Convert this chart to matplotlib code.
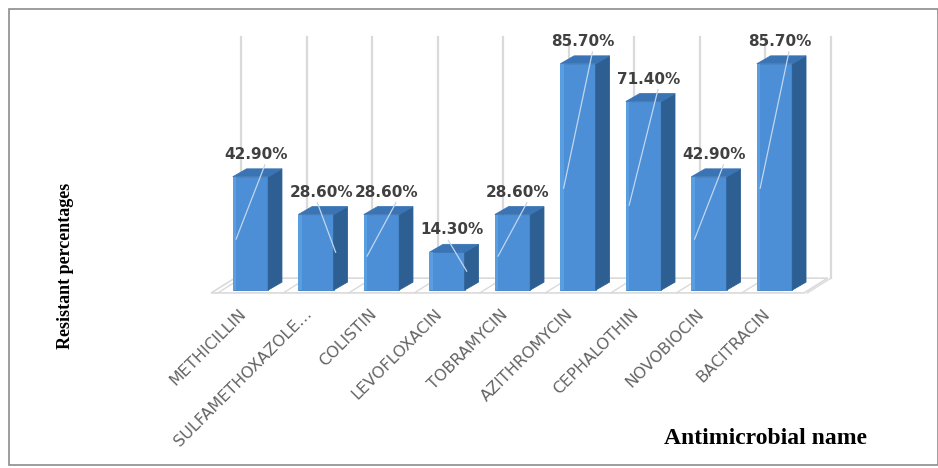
import matplotlib
matplotlib.use("Agg")
import matplotlib.pyplot as plt
import matplotlib.transforms as mtrans
from matplotlib.patches import Polygon, Rectangle

categories = ["METHICILLIN", "SULFAMETHOXAZOLE…", "COLISTIN", "LEVOFLOXACIN",
              "TOBRAMYCIN", "AZITHROMYCIN", "CEPHALOTHIN", "NOVOBIOCIN", "BACITRACIN"]
resistant_pct = [42.9, 28.6, 28.6, 14.3, 28.6, 85.7, 71.4, 42.9, 85.7]

# style: leader-line lean per bar (-1 = down-left, +1 = down-right)
leader_lean = [-1, 1, -1, 1, -1, -1, -1, -1, -1]

W, H = 938, 468
fig = plt.figure(figsize=(W / 100, H / 100), dpi=100)
ax = fig.add_axes([0.2042, 0.3577, 0.6914, 0.5867])
ax.set_xlim(-0.9, 9.0)
ax.set_ylim(-4, 100)
for s in ax.spines.values():
    s.set_visible(False)
ax.set_yticks([])
ax.patch.set_alpha(0)

n = len(categories)
hw = 0.27          # half bar width (category units)
dx, dy = 0.21, 3.0  # bar depth offsets
fbx, fby0, fby1 = 0.36, -1.1, 4.5  # floor depth
grid_c = "#dadada"

# floor slab
x0, x1 = -0.6, n - 0.55
ax.add_patch(Polygon([(x0, fby0), (x1, fby0), (x1 + fbx, fby1), (x0 + fbx, fby1)],
                     closed=True, fc="white", ec=grid_c, lw=1.2, zorder=1))
for b in range(n + 1):
    bb = b - 0.5
    ax.plot([bb, bb + fbx], [fby0, fby1], color=grid_c, lw=1.0, zorder=1.1)
    # back-wall vertical gridlines
    ax.plot([bb + fbx, bb + fbx], [fby1, 96], color=grid_c, lw=1.6, zorder=1.1)

front_c, side_c, top_c = "#4c8fd6", "#2d5f93", "#3a74b4"
for i, v in enumerate(resistant_pct):
    l, r = i - hw, i + hw
    ax.add_patch(Polygon([(l, 0), (r, 0), (r, v), (l, v)], closed=True,
                         fc=front_c, ec="#3f7fc4", lw=0.6, zorder=3))
    ax.add_patch(Polygon([(l, 0), (l + 0.05, 0), (l + 0.05, v), (l, v)], closed=True,
                         fc="#5a9ee2", ec="none", zorder=3.1))
    ax.add_patch(Polygon([(r, 0), (r + dx, dy), (r + dx, v + dy), (r, v)], closed=True,
                         fc=side_c, ec=side_c, lw=0.6, zorder=3))
    ax.add_patch(Polygon([(l, v), (r, v), (r + dx, v + dy), (l + dx, v + dy)], closed=True,
                         fc=top_c, ec=top_c, lw=0.6, zorder=3))
    # leader line
    if leader_lean[i] < 0:
        ax.plot([i + 0.22, i - 0.22], [v + 4.5, v * 0.45], color="#c2d6ec", lw=0.9, zorder=3.5)
    else:
        ax.plot([i + 0.02, i + 0.3], [v + 4.5, v * 0.5], color="#c2d6ec", lw=0.9, zorder=3.5)
    ax.text(i + 0.08, v + 8.5, f"{v:.2f}%", ha="center", va="center",
            fontsize=11, fontweight="bold", color="#404040", zorder=5)

ax.set_xticks(range(n))
ax.set_xticklabels(categories, rotation=45, ha="right", va="center",
                   rotation_mode="anchor", fontsize=11.5, color="#646464")
ax.tick_params(axis="x", length=0, pad=8)
shift = mtrans.ScaledTranslation(-0.07, 0, fig.dpi_scale_trans)
for lbl in ax.get_xticklabels():
    lbl.set_transform(lbl.get_transform() + shift)

# frame and outside texts
fig.patches.append(Rectangle((9 / W, 3 / H), 929 / W, 456 / H, transform=fig.transFigure,
                             fill=False, ec="#8c8c8c", lw=1.2))
fig.text(65 / W, 1 - 266 / H, "Resistant percentages", rotation=90, ha="center", va="center",
         fontfamily="Liberation Serif", fontweight="bold", fontsize=13)
fig.text(765 / W, 1 - 438 / H, "Antimicrobial name", ha="center", va="center",
         fontfamily="Liberation Serif", fontweight="bold", fontsize=17)

fig.savefig("out.png", dpi=100)
